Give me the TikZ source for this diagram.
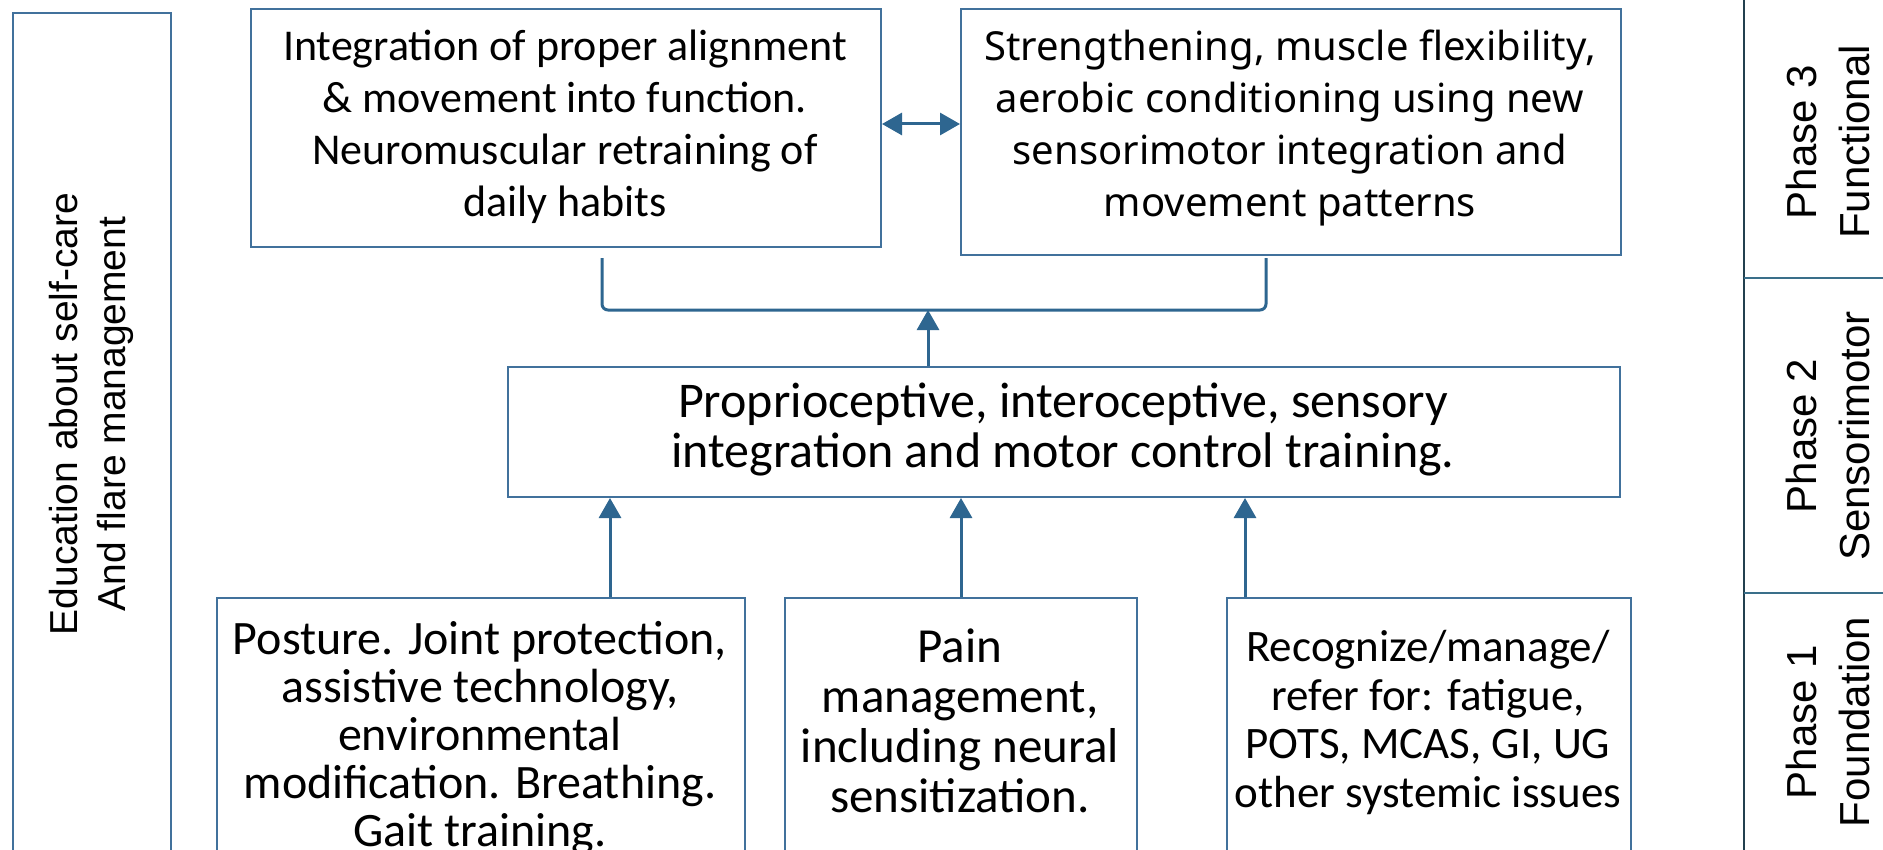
\documentclass[tikz,border=0pt]{standalone}
\usepackage{fontspec}
\setmainfont{Carlito}
\newfontfamily\arialf{Liberation Sans}
\newfontfamily\aptosf{Noto Sans}
\usetikzlibrary{arrows.meta}
\definecolor{boxc}{HTML}{41719C}
\definecolor{arrc}{HTML}{2E6690}
\definecolor{linec}{HTML}{23404F}
\definecolor{sepc}{HTML}{3A6F8A}
\begin{document}
\begin{tikzpicture}[x=0.5pt,y=-0.5pt,
  boxnode/.style={draw=boxc, line width=1pt, rectangle, inner sep=0pt, anchor=north west},
  txt/.style={align=center, font=\fontsize{22}{26}\selectfont, inner sep=0pt, anchor=north},
  btxt/.style={align=center, font=\fontsize{22.5}{24.3}\selectfont, inner sep=0pt, anchor=north},
  sidetxt/.style={align=center, font=\arialf\fontsize{19.5}{24}\selectfont, inner sep=0pt, rotate=90},
  phasetxt/.style={align=center, font=\arialf\fontsize{21}{26.5}\selectfont, inner sep=0pt, rotate=90},
  conn/.style={draw=arrc, line width=1.5pt, -{Triangle[length=10pt,width=11pt]}},
  dconn/.style={draw=arrc, line width=1.5pt, {Triangle[length=10pt,width=11pt]}-{Triangle[length=10pt,width=11pt]}},
  brace/.style={draw=arrc, line width=1.5pt, rounded corners=3pt},
]
\useasboundingbox (0,0) rectangle (1883,850);
\clip (0,0) rectangle (1883,850);
\fill[white] (0,0) rectangle (1883,850);

% left education box
\node[boxnode, minimum width=79pt, minimum height=430pt] (edu) at (12,12) {};
\node[sidetxt] (edut) at (91,414) {Education about self-care\\And flare management};

% top boxes
\node[boxnode, minimum width=315pt, minimum height=119pt] (tl) at (250,8) {};
\node[txt] (tlt) at (565,30) {Integration of proper alignment\\\& movement into function.\\Neuromuscular retraining of\\daily habits};
\node[boxnode, minimum width=330pt, minimum height=123pt] (tr) at (960,8) {};
\node[txt, font=\aptosf\fontsize{20}{26}\selectfont] (trt) at (1290,30) {Strengthening, muscle flexibility,\\aerobic conditioning using new\\sensorimotor integration and\\movement patterns};

% middle box
\node[boxnode, minimum width=556pt, minimum height=65pt] (mid) at (507,366) {};
\node[align=center, inner sep=0pt, font=\fontsize{25}{25}\selectfont] (midt) at (1063,430) {Proprioceptive, interoceptive, sensory\\integration and motor control training.};

% bottom boxes
\node[boxnode, minimum width=264pt, minimum height=160pt] (bl) at (216,597) {};
\node[btxt, font=\fontsize{24}{24}\selectfont] (blt) at (480,621) {Posture. Joint protection,\\assistive technology,\\environmental\\modification. Breathing.\\Gait training.};
\node[boxnode, minimum width=176pt, minimum height=160pt] (bm) at (784,597) {};
\node[btxt, font=\fontsize{24.5}{25}\selectfont] (bmt) at (960,628) {Pain\\management,\\including neural\\sensitization.};
\node[boxnode, minimum width=202pt, minimum height=160pt] (br) at (1226,597) {};
\node[btxt] (brt) at (1428,630) {Recognize/manage/\\refer for: fatigue,\\POTS, MCAS, GI, UG\\other systemic issues};

% phase column
\coordinate (ptop) at (1744,0);
\coordinate (pbot) at (1744,850);
\draw[linec, line width=1.2pt] (ptop) -- (pbot);
\coordinate (s1a) at (1744,278); \coordinate (s1b) at (1883,278);
\coordinate (s2a) at (1744,593); \coordinate (s2b) at (1883,593);
\draw[sepc, line width=1pt] (s1a) -- (s1b);
\draw[sepc, line width=1pt] (s2a) -- (s2b);
\node[phasetxt] (p3) at (1828,142) {Phase 3\\Functional};
\node[phasetxt] (p2) at (1828,436) {Phase 2\\Sensorimotor};
\node[phasetxt] (p1) at (1828,722) {Phase 1\\Foundation};

% connectors
\draw[dconn] (tl.east |- 0,124) -- (tr.west |- 0,124);
\coordinate (bra) at (602,258);
\coordinate (brb) at (1266,258);
\draw[brace] (bra) -- (602,310) -- (1266,310) -- (brb);
\coordinate (brm) at (928,310);
\draw[conn] (mid.north -| brm) -- (brm);
\draw[conn] (bl.north -| 610,0) -- (mid.south -| 610,0);
\draw[conn] (bm.north) -- (mid.south -| bm.north);
\draw[conn] (br.north -| 1245,0) -- (mid.south -| 1245,0);
\end{tikzpicture}
\end{document}
